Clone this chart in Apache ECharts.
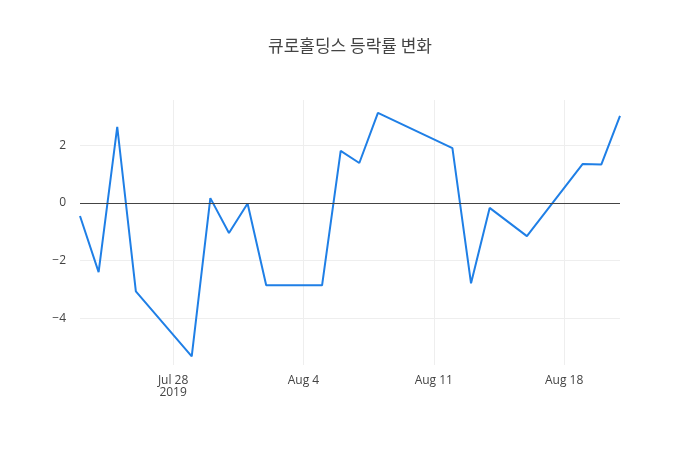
<!DOCTYPE html>
<html><head><meta charset="utf-8">
<script src="https://cdn.jsdelivr.net/npm/echarts@6/dist/echarts.min.js"></script>
<style>html,body{margin:0;padding:0;background:#fff}#c{width:700px;height:450px}</style>
</head><body><div id="c"></div>
<script>
const dates = ['2019-07-23','2019-07-24','2019-07-25','2019-07-26','2019-07-29','2019-07-30','2019-07-31','2019-08-01','2019-08-02','2019-08-05','2019-08-06','2019-08-07','2019-08-08','2019-08-12','2019-08-13','2019-08-14','2019-08-16','2019-08-19','2019-08-20','2019-08-21'];
const values = [-0.45,-2.4,2.65,-3.07,-5.33,0.17,-1.04,-0.02,-2.86,-2.86,1.81,1.39,3.13,1.91,-2.79,-0.17,-1.15,1.36,1.34,3.03];
const xTicks = ['2019-07-28','2019-08-04','2019-08-11','2019-08-18'];
const yTicks = [-4,-2,0,2];
const months = ['Jan','Feb','Mar','Apr','May','Jun','Jul','Aug','Sep','Oct','Nov','Dec'];
const DAY = 86400000;
const base = Date.parse('2019-07-23T00:00:00Z');
const dn = s => (Date.parse(s + 'T00:00:00Z') - base) / DAY;
const chart = echarts.init(document.getElementById('c'));
chart.setOption({
  animation:false,
  title:{text:'큐로홀딩스 등락률 변화',left:'center',top:32,textStyle:{fontFamily:'Noto Sans CJK KR',fontSize:17,fontWeight:'normal',color:'#444'}},
  grid:{left:80,right:80,top:100,bottom:85},
  xAxis:{type:'value',min:0,max:dn('2019-08-21'),
    axisLine:{show:false},axisTick:{show:false,customValues:xTicks.map(dn)},
    splitLine:{show:true,lineStyle:{color:'#eee'}},
    axisLabel:{customValues:xTicks.map(dn),color:'#444',fontSize:12,fontFamily:'Open Sans',margin:10,
      formatter:v=>{const d=new Date(base+v*DAY);const s=months[d.getUTCMonth()]+' '+d.getUTCDate();return v===dn(xTicks[0])?s+'\n2019':s;}}},
  yAxis:{type:'value',min:-5.63,max:3.58,
    axisLine:{show:false},axisTick:{show:false,customValues:yTicks},
    splitLine:{show:true,lineStyle:{color:'#eee'}},
    axisLabel:{customValues:yTicks,color:'#444',fontSize:12,fontFamily:'Open Sans',margin:14,formatter:v=>v<0?'\u2212'+(-v):String(v)}},
  series:[{type:'line',data:dates.map((d,i)=>[dn(d),values[i]]),showSymbol:false,
    lineStyle:{color:'#1f7fe6',width:2},itemStyle:{color:'#1f7fe6'},
    markLine:{silent:true,symbol:'none',label:{show:false},lineStyle:{color:'#444',width:1,type:'solid'},data:[{yAxis:0}]}}]
});
</script></body></html>
